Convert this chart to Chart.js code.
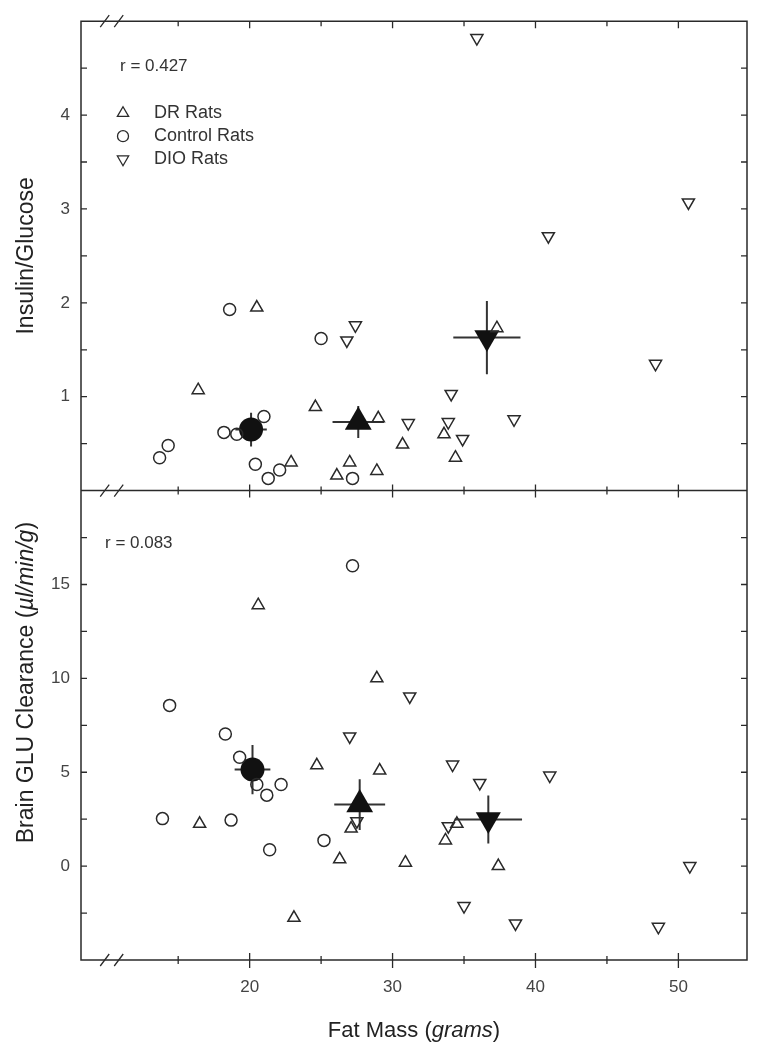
<!DOCTYPE html>
<html>
<head>
<meta charset="utf-8">
<script src="https://cdn.jsdelivr.net/npm/chart.js@4.4.1/dist/chart.umd.min.js"></script>
<style>
  html, body { margin: 0; padding: 0; background: #fff; }
  canvas { display: block; }
</style>
</head>
<body>
<canvas id="chart" width="767" height="1050"></canvas>
<script>
// --- values ---
const xTickLabels = [20, 30, 40, 50];
const insTickLabels = [1, 2, 3, 4];
const gluTickLabels = [0, 5, 10, 15];

// Insulin/Glucose panel
const drInsX = [16.4, 20.5, 22.9, 24.6, 26.1, 27.0, 29.0, 28.9, 30.7, 33.6, 34.4, 37.3];
const drInsY = [1.07, 1.95, 0.30, 0.89, 0.16, 0.30, 0.77, 0.21, 0.49, 0.60, 0.35, 1.73];
const ctlInsX = [18.6, 25.0, 21.0, 18.2, 19.1, 14.3, 13.7, 20.4, 21.3, 22.1, 27.2];
const ctlInsY = [1.93, 1.62, 0.79, 0.62, 0.60, 0.48, 0.35, 0.28, 0.13, 0.22, 0.13];
const dioInsX = [35.9, 50.7, 40.9, 48.4, 27.4, 26.8, 31.1, 34.1, 33.9, 34.9, 38.5];
const dioInsY = [4.82, 3.07, 2.71, 1.35, 1.76, 1.60, 0.72, 1.03, 0.73, 0.55, 0.76];
const meanInsX = [20.1, 27.6, 36.6];
const meanInsY = [0.65, 0.73, 1.63];
const errInsX = [1.1, 1.8, 2.35];
const errInsY = [0.18, 0.17, 0.39];

// Brain GLU clearance panel
const drGluX = [20.6, 28.9, 24.7, 29.1, 16.5, 27.1, 26.3, 30.9, 23.1, 34.5, 33.7, 37.4];
const drGluY = [13.9, 10.0, 5.37, 5.09, 2.25, 2.0, 0.36, 0.18, -2.75, 2.25, 1.37, 0.0];
const ctlGluX = [27.2, 14.4, 18.3, 19.3, 20.5, 21.2, 22.2, 13.9, 18.7, 21.4, 25.2];
const ctlGluY = [16.0, 8.56, 7.04, 5.80, 4.35, 3.78, 4.35, 2.53, 2.45, 0.87, 1.37];
const dioGluX = [27.0, 31.2, 34.2, 36.1, 41.0, 33.9, 27.5, 50.8, 35.0, 38.6, 48.6];
const dioGluY = [6.91, 9.04, 5.41, 4.43, 4.82, 2.13, 2.39, 0.0, -2.13, -3.05, -3.23];
const meanGluX = [20.2, 27.7, 36.7];
const meanGluY = [5.14, 3.28, 2.48];
const errGluX = [1.25, 1.78, 2.36];
const errGluY = [1.31, 1.35, 1.28];

const groupNames = ['DR Rats', 'Control Rats', 'DIO Rats'];
const rValues = ['r = 0.427', 'r = 0.083'];

// --- helpers ---
const FONT = "'Liberation Sans', Arial, sans-serif";
const INK = '#2a2a2a';
const pts = (xs, ys) => xs.map((x, i) => ({ x: x, y: ys[i] }));

function openSet(label, xs, ys, axis, style, rot, r) {
    return {
        label: label,
        data: pts(xs, ys),
        yAxisID: axis,
        pointStyle: style,
        rotation: rot,
        pointRadius: r,
        pointBorderWidth: 1.5,
        pointBorderColor: INK,
        pointBackgroundColor: 'rgba(0,0,0,0)',
        showLine: false
    };
}

function meanSet(xs, ys, ex, ey, axis) {
    return {
        label: 'mean',
        data: pts(xs, ys),
        errX: ex,
        errY: ey,
        yAxisID: axis,
        pointStyle: ['circle', 'triangle', 'triangle'],
        rotation: [0, 0, 180],
        pointRadius: [12, 15.5, 14.5],
        pointBorderWidth: 0,
        pointBackgroundColor: '#111',
        pointBorderColor: '#111',
        showLine: false
    };
}

// frame, inward ticks, axis breaks, error bars
const framePlugin = {
    id: 'frame',
    beforeDatasetsDraw(chart) {
        const ctx = chart.ctx;
        const a = chart.chartArea;
        const xs = chart.scales.x, yt = chart.scales.yIns, yb = chart.scales.yGlu;
        const mid = yt.bottom;
        ctx.save();
        ctx.strokeStyle = INK;
        ctx.lineWidth = 1.5;
        ctx.beginPath();
        ctx.rect(a.left, a.top, a.right - a.left, a.bottom - a.top);
        ctx.moveTo(a.left, mid);
        ctx.lineTo(a.right, mid);
        ctx.stroke();

        // x ticks (top edge, divider, bottom axis)
        ctx.lineWidth = 1.3;
        ctx.beginPath();
        for (let v = 15; v <= 50; v += 5) {
            const major = v % 10 === 0;
            const px = xs.getPixelForValue(v);
            ctx.moveTo(px, a.top); ctx.lineTo(px, a.top + (major ? 7 : 5));
            ctx.moveTo(px, mid - (major ? 6 : 4)); ctx.lineTo(px, mid + (major ? 7 : 4));
            ctx.moveTo(px, a.bottom - (major ? 7 : 4)); ctx.lineTo(px, a.bottom + (major ? 8 : 4));
        }
        // y ticks, both sides, pointing in
        for (let v = 0.5; v < 5; v += 0.5) {
            const py = yt.getPixelForValue(v);
            ctx.moveTo(a.left, py); ctx.lineTo(a.left + 6, py);
            ctx.moveTo(a.right, py); ctx.lineTo(a.right - 6, py);
        }
        for (let v = -2.5; v < 20; v += 2.5) {
            const py = yb.getPixelForValue(v);
            ctx.moveTo(a.left, py); ctx.lineTo(a.left + 6, py);
            ctx.moveTo(a.right, py); ctx.lineTo(a.right - 6, py);
        }
        ctx.stroke();

        // axis break marks
        const bx = xs.getPixelForValue(10.35);
        ctx.beginPath();
        [a.top, mid, a.bottom].forEach(y => {
            [-7, 7].forEach(dx => {
                ctx.moveTo(bx + dx - 4.5, y + 6);
                ctx.lineTo(bx + dx + 4.5, y - 6);
            });
        });
        ctx.stroke();

        // error bars of group means
        ctx.strokeStyle = '#333';
        ctx.lineWidth = 2;
        chart.data.datasets.forEach(ds => {
            if (!ds.errX) return;
            const ys = chart.scales[ds.yAxisID];
            ds.data.forEach((p, i) => {
                const px = xs.getPixelForValue(p.x), py = ys.getPixelForValue(p.y);
                ctx.beginPath();
                ctx.moveTo(xs.getPixelForValue(p.x - ds.errX[i]), py);
                ctx.lineTo(xs.getPixelForValue(p.x + ds.errX[i]), py);
                ctx.moveTo(px, ys.getPixelForValue(p.y - ds.errY[i]));
                ctx.lineTo(px, ys.getPixelForValue(p.y + ds.errY[i]));
                ctx.stroke();
            });
        });
        ctx.restore();
    },
    afterDraw(chart) {
        const ctx = chart.ctx;
        const a = chart.chartArea;
        const yt = chart.scales.yIns, yb = chart.scales.yGlu;
        ctx.save();
        ctx.fillStyle = '#333';
        ctx.textBaseline = 'middle';
        ctx.textAlign = 'left';
        ctx.font = '17px ' + FONT;
        ctx.fillText(rValues[0], a.left + 39, yt.top + 45);
        ctx.fillText(rValues[1], a.left + 24, yb.top + 53);

        // legend
        const styles = [['triangle', 0, 6.5], ['circle', 0, 5.5], ['triangle', 180, 6.5]];
        ctx.font = '18px ' + FONT;
        groupNames.forEach((name, i) => {
            const y = yt.top + 92 + i * 23;
            ctx.save();
            ctx.strokeStyle = INK;
            ctx.fillStyle = 'rgba(0,0,0,0)';
            ctx.lineWidth = 1.3;
            Chart.helpers.drawPoint(ctx, {
                pointStyle: styles[i][0], rotation: styles[i][1],
                radius: styles[i][2], borderWidth: 1.3
            }, a.left + 42, y);
            ctx.restore();
            ctx.fillText(name, a.left + 73, y);
        });

        // axis titles with italic units
        ctx.textBaseline = 'alphabetic';
        ctx.fillStyle = '#222';
        const drawMixed = (parts, cx, cy, rotate) => {
            ctx.save();
            ctx.translate(cx, cy);
            if (rotate) ctx.rotate(-Math.PI / 2);
            let total = 0;
            parts.forEach(p => { ctx.font = p[1] + ' ' + FONT; total += ctx.measureText(p[0]).width; });
            let x = -total / 2;
            ctx.textAlign = 'left';
            parts.forEach(p => {
                ctx.font = p[1] + ' ' + FONT;
                ctx.fillText(p[0], x, 0);
                x += ctx.measureText(p[0]).width;
            });
            ctx.restore();
        };
        drawMixed([['Insulin/Glucose', '23px']], 33, (yt.top + yt.bottom) / 2, true);
        drawMixed([['Brain GLU Clearance (', '23px'], ['\u00b5l/min/g', 'italic 23px'], [')', '23px']],
            33, yb.top + 192, true);
        drawMixed([['Fat Mass (', '22px'], ['grams', 'italic 22px'], [')', '22px']],
            (a.left + a.right) / 2, 1037, false);
        ctx.restore();
    }
};

const tickFont = { family: FONT, size: 17 };

new Chart(document.getElementById('chart'), {
    type: 'scatter',
    data: {
        datasets: [
            openSet(groupNames[0], drInsX, drInsY, 'yIns', 'triangle', 0, 7),
            openSet(groupNames[1], ctlInsX, ctlInsY, 'yIns', 'circle', 0, 6),
            openSet(groupNames[2], dioInsX, dioInsY, 'yIns', 'triangle', 180, 7),
            meanSet(meanInsX, meanInsY, errInsX, errInsY, 'yIns'),
            openSet(groupNames[0], drGluX, drGluY, 'yGlu', 'triangle', 0, 7),
            openSet(groupNames[1], ctlGluX, ctlGluY, 'yGlu', 'circle', 0, 6),
            openSet(groupNames[2], dioGluX, dioGluY, 'yGlu', 'triangle', 180, 7),
            meanSet(meanGluX, meanGluY, errGluX, errGluY, 'yGlu')
        ]
    },
    options: {
        responsive: false,
        devicePixelRatio: 1,
        animation: false,
        layout: { padding: { left: 0, right: 20, top: 18, bottom: 0 } },
        plugins: { legend: { display: false }, tooltip: { enabled: false } },
        scales: {
            x: {
                type: 'linear', position: 'bottom', min: 8.2, max: 54.8,
                grid: { display: false, drawTicks: false },
                border: { display: false },
                afterBuildTicks: s => { s.ticks = xTickLabels.map(v => ({ value: v })); },
                afterFit: s => { s.height = 90; },
                ticks: { font: tickFont, color: '#444', padding: 17, maxRotation: 0 }
            },
            yIns: {
                type: 'linear', position: 'left', stack: 'panels', stackWeight: 1, weight: 1,
                min: 0, max: 5,
                grid: { display: false, drawTicks: false },
                border: { display: false },
                afterBuildTicks: s => { s.ticks = insTickLabels.map(v => ({ value: v })); },
                afterFit: s => { s.width = 81; },
                ticks: { font: tickFont, color: '#444', padding: 11 }
            },
            yGlu: {
                type: 'linear', position: 'left', stack: 'panels', stackWeight: 1, weight: 0,
                min: -5, max: 20,
                grid: { display: false, drawTicks: false },
                border: { display: false },
                afterBuildTicks: s => { s.ticks = gluTickLabels.map(v => ({ value: v })); },
                afterFit: s => { s.width = 81; },
                ticks: { font: tickFont, color: '#444', padding: 11 }
            }
        }
    },
    plugins: [framePlugin]
});
</script>
</body>
</html>
